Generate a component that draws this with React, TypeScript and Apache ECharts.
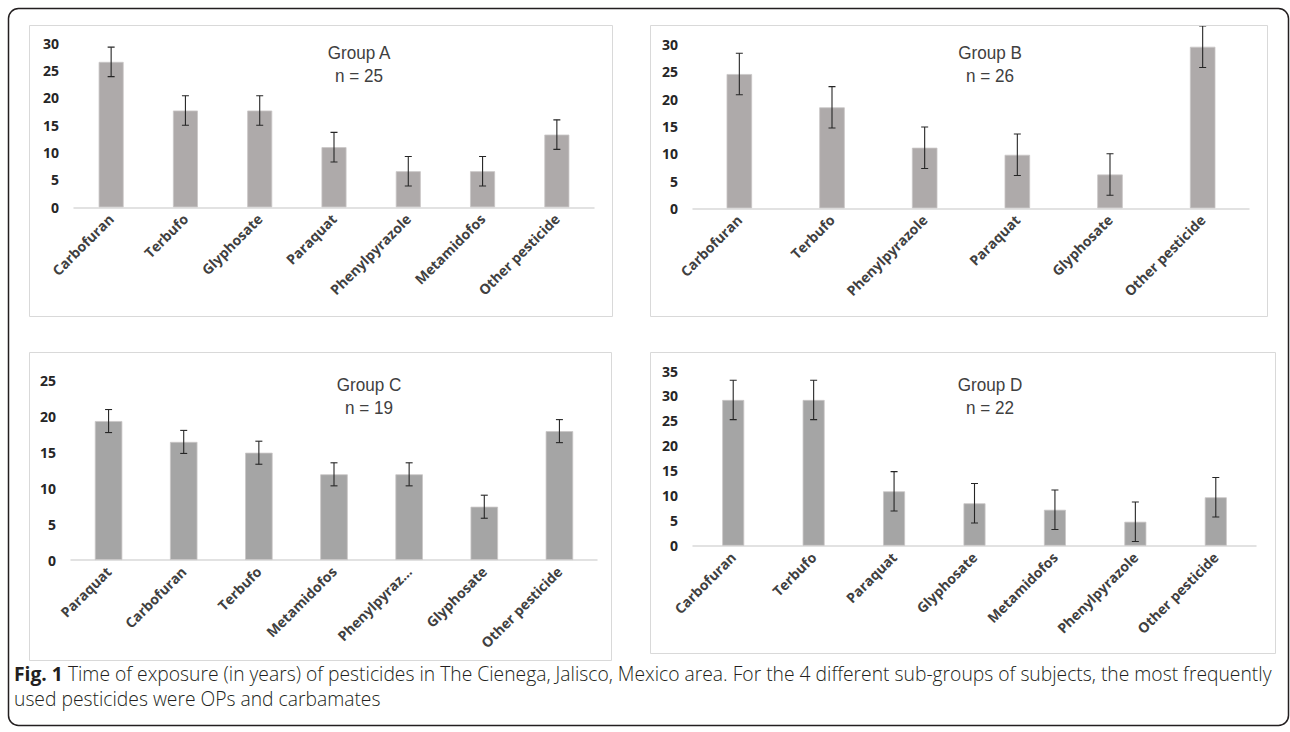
import React, { useEffect, useRef } from "react";
import * as echarts from "echarts";

// ---- data ----
const catsA = ["Carbofuran", "Terbufo", "Glyphosate", "Paraquat", "Phenylpyrazole", "Metamidofos", "Other pesticide"];
const valsA = [26.6, 17.7, 17.7, 11.0, 6.6, 6.6, 13.3];
const errA = [2.7, 2.7, 2.7, 2.7, 2.7, 2.7, 2.7];

const catsB = ["Carbofuran", "Terbufo", "Phenylpyrazole", "Paraquat", "Glyphosate", "Other pesticide"];
const valsB = [24.6, 18.5, 11.1, 9.8, 6.2, 29.6];
const errB = [3.8, 3.8, 3.8, 3.8, 3.8, 3.8];

const catsC = ["Paraquat", "Carbofuran", "Terbufo", "Metamidofos", "Phenylpyraz…", "Glyphosate", "Other pesticide"];
const valsC = [19.3, 16.4, 14.9, 11.9, 11.9, 7.4, 17.9];
const errC = [1.6, 1.6, 1.6, 1.6, 1.6, 1.6, 1.6];

const catsD = ["Carbofuran", "Terbufo", "Paraquat", "Glyphosate", "Metamidofos", "Phenylpyrazole", "Other pesticide"];
const valsD = [29.2, 29.2, 10.9, 8.5, 7.2, 4.8, 9.7];
const errD = [3.95, 3.95, 3.95, 3.95, 3.95, 3.95, 3.95];

const titles = ["Group A", "Group B", "Group C", "Group D"];
const nLabels = ["n = 25", "n = 26", "n = 19", "n = 22"];
const yMax = [30, 33.4, 25, 35];

const captionBold = "Fig. 1";
const captionLine1 =
  " Time of exposure (in years) of pesticides in The Cienega, Jalisco, Mexico area. For the 4 different sub-groups of subjects, the most frequently";
const captionLine2 = "used pesticides were OPs and carbamates";

// ---- layout (pixels) ----
const grids = [
  { left: 74, top: 43.3, width: 520, height: 164 },
  { left: 693, top: 26, width: 556, height: 182.3 },
  { left: 71, top: 380, width: 526, height: 180 },
  { left: 693, top: 371, width: 563, height: 174.7 },
];
const boxes = [
  { x: 29, y: 25, w: 583, h: 291 },
  { x: 650, y: 25, w: 617, h: 291 },
  { x: 29, y: 352, w: 582, h: 308 },
  { x: 650, y: 352, w: 625, h: 301 },
];
const titlePos = [
  { x: 359, y: 41 },
  { x: 990, y: 41 },
  { x: 369, y: 373 },
  { x: 990, y: 373 },
];
const barWidths = [25, 25.5, 27.5, 22];
const barColors = ["#AEAAAA", "#AEAAAA", "#A5A5A5", "#A5A5A5"];

const groups = [
  { cats: catsA, vals: valsA, err: errA },
  { cats: catsB, vals: valsB, err: errB },
  { cats: catsC, vals: valsC, err: errC },
  { cats: catsD, vals: valsD, err: errD },
];

const labelFont = "'Open Sans', sans-serif";
const titleFont = "'Liberation Sans', Arial, sans-serif";
const capFont = "'Open Sans', sans-serif";

export default function App() {
  const ref = useRef<HTMLDivElement>(null);

  useEffect(() => {
    document.body.style.margin = "0";
    if (!ref.current) return;
    const chart = echarts.init(ref.current, null, { renderer: "svg" });

    const errRender = (params: any, api: any) => {
      const x = api.value(0);
      const lo = api.coord([x, api.value(1)]);
      const hi = api.coord([x, api.value(2)]);
      const h = 3.5;
      const st = { stroke: "#262626", lineWidth: 1.1 };
      return {
        type: "group",
        children: [
          { type: "line", shape: { x1: lo[0], y1: lo[1], x2: hi[0], y2: hi[1] }, style: st },
          { type: "line", shape: { x1: lo[0] - h, y1: lo[1], x2: lo[0] + h, y2: lo[1] }, style: st },
          { type: "line", shape: { x1: hi[0] - h, y1: hi[1], x2: hi[0] + h, y2: hi[1] }, style: st },
        ],
      };
    };

    const option: any = {
      animation: false,
      backgroundColor: "#ffffff",
      grid: grids.map((g) => ({ ...g, containLabel: false })),
      xAxis: groups.map((g, i) => ({
        type: "category",
        gridIndex: i,
        data: g.cats,
        axisTick: { show: false },
        axisLine: { lineStyle: { color: "#D9D9D9", width: 1.5 } },
        axisLabel: {
          rotate: 45,
          interval: 0,
          margin: 9,
          fontFamily: labelFont,
          fontWeight: "bold",
          fontSize: 14,
          color: "#404040",
        },
      })),
      yAxis: groups.map((g, i) => ({
        type: "value",
        gridIndex: i,
        min: 0,
        max: yMax[i],
        interval: 5,
        axisLine: { show: false },
        axisTick: { show: false },
        splitLine: { show: false },
        axisLabel: {
          margin: 15,
          showMaxLabel: i !== 1,
          fontFamily: labelFont,
          fontWeight: "bold",
          fontSize: 14,
          color: "#262626",
        },
      })),
      series: [
        ...groups.map((g, i) => ({
          type: "bar",
          xAxisIndex: i,
          yAxisIndex: i,
          data: g.vals,
          barWidth: barWidths[i],
          itemStyle: { color: barColors[i], borderColor: "#C9C6C6", borderWidth: 0.8 },
        })),
        ...groups.map((g, i) => ({
          type: "custom",
          xAxisIndex: i,
          yAxisIndex: i,
          renderItem: errRender,
          encode: { x: 0, y: [1, 2] },
          data: g.vals.map((v, j) => [j, v - g.err[j], v + g.err[j]]),
          z: 10,
          clip: true,
        })),
      ],
      graphic: [
        {
          type: "rect",
          shape: { x: 8.5, y: 8.5, width: 1280, height: 717, r: 10 },
          style: { fill: "none", stroke: "#231F20", lineWidth: 1.5 },
          z: -10,
        },
        ...boxes.map((b) => ({
          type: "rect",
          shape: { x: b.x + 0.5, y: b.y + 0.5, width: b.w, height: b.h },
          style: { fill: "none", stroke: "#D9D9D9", lineWidth: 1 },
          z: -5,
        })),
        ...titles.map((t, i) => ({
          type: "text",
          x: titlePos[i].x,
          y: titlePos[i].y,
          scaleX: 0.9,
          style: {
            text: t + "\n" + nLabels[i],
            fontFamily: titleFont,
            fontSize: 19,
            lineHeight: 23,
            fill: "#404040",
            textAlign: "center",
            textVerticalAlign: "top",
          },
        })),
        {
          type: "text",
          x: 14,
          y: 664,
          style: {
            text: "{b|" + captionBold + "}" + captionLine1,
            rich: {
              b: { fontWeight: "bold", fontFamily: capFont, fontSize: 19.3, fill: "#231F20" },
            },
            fontFamily: capFont,
            fontWeight: 300,
            fontSize: 19.3,
            fill: "#231F20",
          },
        },
        {
          type: "text",
          x: 14,
          y: 689,
          style: {
            text: captionLine2,
            fontFamily: capFont,
            fontWeight: 300,
            fontSize: 19.3,
            fill: "#231F20",
          },
        },
      ],
    };

    chart.setOption(option);
    return () => chart.dispose();
  }, []);

  return <div ref={ref} style={{ width: 1290, height: 732 }} />;
}
